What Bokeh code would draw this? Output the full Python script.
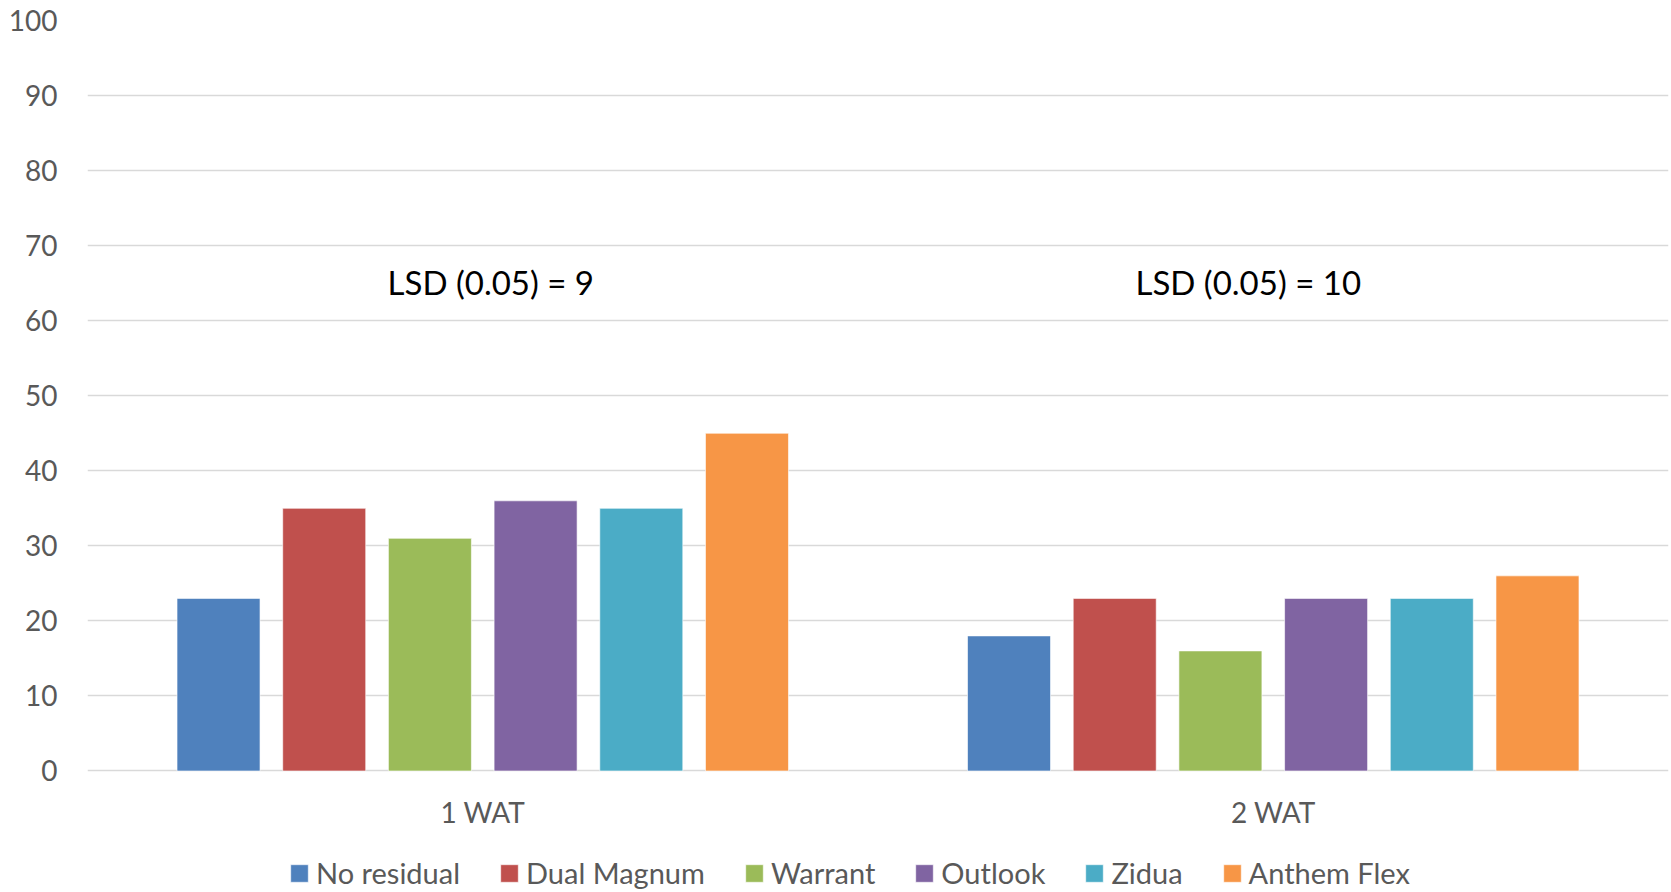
from bokeh.plotting import figure
from bokeh.models import ColumnDataSource, FactorRange, Range1d, FixedTicker, Legend, LegendItem
from bokeh.transform import dodge
from bokeh.core.properties import value
from bokeh.embed import file_html
from bokeh.resources import INLINE

# ---- data ----
groups = ["1 WAT", "2 WAT"]
series = ["No residual", "Dual Magnum", "Warrant", "Outlook", "Zidua", "Anthem Flex"]
no_residual = [23, 18]
dual_magnum = [35, 23]
warrant = [31, 16]
outlook = [36, 23]
zidua = [35, 23]
anthem_flex = [45, 26]
y_ticks = [0, 10, 20, 30, 40, 50, 60, 70, 80, 90, 100]
lsd_labels = ["LSD (0.05) = 9", "LSD (0.05) = 10"]

# ---- style / layout ----
colors = ["#4F81BD", "#C0504D", "#9BBB59", "#8064A2", "#4BACC6", "#F79646"]
FONT = "Lato"
GRAY = "#595959"
GRID = "#D9D9D9"
PITCH = 0.1337
BAR_W = 0.105
LSD_Y = 65.13
XLAB_Y = -5.47
Y_START = -16.19

values = [no_residual, dual_magnum, warrant, outlook, zidua, anthem_flex]
data = {"group": groups}
for i, v in enumerate(values):
    data[f"s{i}"] = v
src = ColumnDataSource(data)

p = figure(x_range=FactorRange(*groups, range_padding=0), y_range=Range1d(Y_START, 100),
           width=1671, height=892, output_backend="svg", toolbar_location=None,
           min_border_left=87, min_border_right=3, min_border_top=20, min_border_bottom=0)
p.outline_line_color = None
p.background_fill_color = "white"

renderers = []
for i, name in enumerate(series):
    r = p.vbar(x=dodge("group", (i - 2.5) * PITCH, range=p.x_range), top=f"s{i}", bottom=0,
               width=BAR_W, source=src, fill_color=colors[i],
               line_color="white", line_width=1, line_alpha=0.6)
    renderers.append(r)

p.xgrid.visible = False
p.ygrid.grid_line_color = GRID
p.ygrid.grid_line_width = 1.5

p.yaxis.ticker = FixedTicker(ticks=y_ticks)
p.yaxis.axis_line_color = None
p.yaxis.major_tick_line_color = None
p.yaxis.minor_tick_line_color = None
p.yaxis.major_tick_out = 0
p.yaxis.major_label_text_font = FONT
p.yaxis.major_label_text_font_size = "28px"
p.yaxis.major_label_text_color = GRAY
p.yaxis.major_label_standoff = 30

p.xaxis.visible = False

# category labels under the zero line
xl_src = ColumnDataSource(dict(x=groups, y=[XLAB_Y, XLAB_Y], text=groups))
p.text(x="x", y="y", text="text", source=xl_src, text_align="center",
       text_baseline="alphabetic", text_font=value(FONT), text_font_size="28px", text_color=GRAY)

lsd_src = ColumnDataSource(dict(x=groups, y=[LSD_Y, LSD_Y], text=lsd_labels, xo=[8, -25]))
p.text(x="x", y="y", text="text", x_offset="xo", source=lsd_src, text_align="center",
       text_baseline="alphabetic", text_font=value(FONT), text_font_size="33px", text_color="black")

legend = Legend(items=[LegendItem(label=s, renderers=[r]) for s, r in zip(series, renderers)],
                orientation="horizontal", location=(201, 2), padding=0, margin=0,
                spacing=38, label_standoff=6, glyph_width=22, glyph_height=22, label_height=35,
                label_text_font=FONT, label_text_font_size="29px", label_text_color=GRAY,
                border_line_color=None, background_fill_alpha=0)
p.add_layout(legend)

open("out.html", "w").write(file_html(p, INLINE))
